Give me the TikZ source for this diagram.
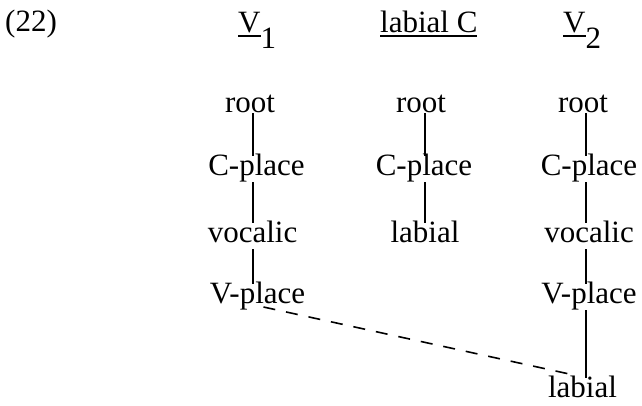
\documentclass[tikz,border=0pt]{standalone}
\usepackage{fontspec}
\setmainfont{Liberation Serif}
\newcommand\ulin[1]{\setbox0\hbox{#1}\rlap{\vrule height -3pt depth 5pt width \wd0}\box0}
\begin{document}
\begin{tikzpicture}[x=1pt,y=-1pt,
  lbl/.style={inner sep=0pt, font=\fontsize{31}{37}\selectfont},
  feat/.style={lbl, text height=19pt, text depth=7pt, anchor=base},
  rootnode/.style={feat, text depth=1pt},
  head/.style={lbl, anchor=base west},
  assoc/.style={line width=1.8pt},
  delink/.style={line width=1.6pt, dash pattern=on 12pt off 11pt}]
\useasboundingbox (0,0) rectangle (642,405);
% header
\node[head] (num) at (5,31) {(22)};
\node[head] (hv1) at (238,32) {\ulin{V}\raisebox{-16pt}{1}};
\node[head] (hlc) at (380,32) {\ulin{labial C}};
\node[head] (hv2) at (563,32) {\ulin{V}\raisebox{-16pt}{2}};
% column x positions
\coordinate (x1) at (253,0);
\coordinate (x2) at (425,0);
\coordinate (x3) at (586,0);
% column 1
\node[rootnode] (r1) at (250,112) {root};
\node[feat] (c1) at (256.5,175) {C-place};
\node[feat] (vo1) at (252.5,242) {vocalic};
\node[feat] (vp1) at (257.5,303) {V-place};
% column 2
\node[rootnode] (r2) at (421,112) {root};
\node[feat] (c2) at (424,175) {C-place};
\node[feat] (l2) at (425,242) {labial};
% column 3
\node[rootnode] (r3) at (583,112) {root};
\node[feat] (c3) at (589,175) {C-place};
\node[feat] (vo3) at (589,242) {vocalic};
\node[feat] (vp3) at (589,303) {V-place};
\node[feat, text depth=1pt] (l3) at (582.5,397) {labial};
% association lines
\draw[assoc] (x1 |- r1.south) -- (x1 |- c1.north);
\draw[assoc] (x1 |- c1.south) -- (x1 |- vo1.north);
\draw[assoc] (x1 |- vo1.south) -- (x1 |- vp1.north);
\draw[assoc] (x2 |- r2.south) -- (x2 |- c2.north);
\draw[assoc] (x2 |- c2.south) -- (x2 |- l2.north);
\draw[assoc] (x3 |- r3.south) -- (x3 |- c3.north);
\draw[assoc] (x3 |- c3.south) -- (x3 |- vo3.north);
\draw[assoc] (x3 |- vo3.south) -- (x3 |- vp3.north);
\draw[assoc] (x3 |- vp3.south) -- (x3 |- l3.north);
% dashed association
\draw[delink] ([xshift=6pt,yshift=-4pt]vp1.base) -- ([xshift=-5pt,yshift=2pt]l3.north);
\end{tikzpicture}
\end{document}
